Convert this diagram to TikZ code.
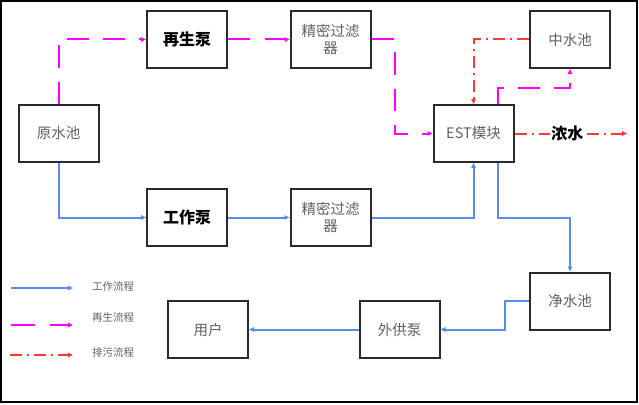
\documentclass[tikz,border=0pt]{standalone}
\usepackage{fontspec}
\newfontfamily\cjk{Noto Sans CJK SC}
\usetikzlibrary{arrows.meta}
\definecolor{boxc}{HTML}{2A2A2A}
\definecolor{txtc}{HTML}{606060}
\definecolor{bluec}{HTML}{5A8CEE}
\definecolor{magc}{HTML}{FF00FF}
\definecolor{redc}{HTML}{FF3838}
\tikzset{
  box/.style={draw=boxc, line width=2pt, minimum width=80pt, minimum height=57pt, inner sep=0pt, align=center, font=\cjk\fontsize{14.5}{17}\selectfont, text=txtc},
  boldbox/.style={box, font=\cjk\bfseries\fontsize{16}{18}\selectfont, text=black},
  tip/.style={-{Triangle[length=5pt,width=4.5pt]}},
  blueline/.style={tip, draw=bluec, line width=2pt},
  magline/.style={tip, draw=magc, line width=2pt, dash pattern=on 22pt off 14pt},
  redline/.style={tip, draw=redc, line width=2pt, dash pattern=on 12pt off 5pt on 2pt off 5pt},
  legtext/.style={font=\cjk\fontsize{10.5}{12}\selectfont, text=txtc, anchor=west, inner sep=0pt}
}
\begin{document}
\begin{tikzpicture}[x=1pt,y=-1pt]
\useasboundingbox (0,0) rectangle (639,404);
\draw[line width=2pt] (1,1) rectangle (637,402);

\node[box] (yuan) at (58.5,133) {原水池};
\node[boldbox] (zsb) at (187,39.5) {再生泵};
\node[box] (jm1) at (330.5,39.5) {精密过滤\\器};
\node[box] (zs) at (570,39.5) {中水池};
\node[box] (est) at (473.5,133.5) {EST模块};
\node[boldbox] (gzb) at (187,217.5) {工作泵};
\node[box] (jm2) at (330.5,217.5) {精密过滤\\器};
\node[box] (js) at (570,301) {净水池};
\node[box] (wgb) at (399.5,329.5) {外供泵};
\node[box] (yh) at (208,329.5) {用户};

% regeneration flow
\draw[magline] (yuan.north) |- (zsb.west);
\draw[magline, dash pattern=on 22pt off 15pt] (zsb.east) -- (jm1.west);
\draw[magline] (jm1.east) -- ++(23,0) |- (est.west);
\draw[magline] ([xshift=24pt]est.north) -- ++(0,-16) -| (zs.south);

% discharge flow
\draw[redline] (zs.west) -| (est.north);
\coordinate (nend) at (627,133.5);
\draw[redline] (est.east) -- node[pos=0.47, fill=white, inner sep=1pt, font=\cjk\bfseries\fontsize{16}{18}\selectfont, text=black] (nong) {浓水} (nend);

% working flow
\draw[blueline] (yuan.south) |- (gzb.west);
\draw[blueline] (gzb.east) -- (jm2.west);
\draw[blueline] (jm2.east) -| (est.south);
\draw[blueline] ([xshift=24pt]est.south) -- ++(0,55) -| (js.north);
\draw[blueline] (js.west) -- ++(-24,0) |- (wgb.east);
\draw[blueline] (wgb.west) -- (yh.east);

% legend
\coordinate (l1a) at (11,288); \coordinate (l1b) at (73,288);
\coordinate (l2a) at (11,325); \coordinate (l2b) at (73,325);
\coordinate (l3a) at (10,355); \coordinate (l3b) at (73,355);
\draw[blueline] (l1a) -- (l1b);
\draw[magline, dash pattern=on 24pt off 15pt] (l2a) -- (l2b);
\draw[redline, dash pattern=on 12pt off 5pt on 2pt off 5pt] (l3a) -- (l3b);
\node[legtext] (t1) at (92,287) {工作流程};
\node[legtext] (t2) at (92,318) {再生流程};
\node[legtext] (t3) at (92,353) {排污流程};
\end{tikzpicture}
\end{document}
